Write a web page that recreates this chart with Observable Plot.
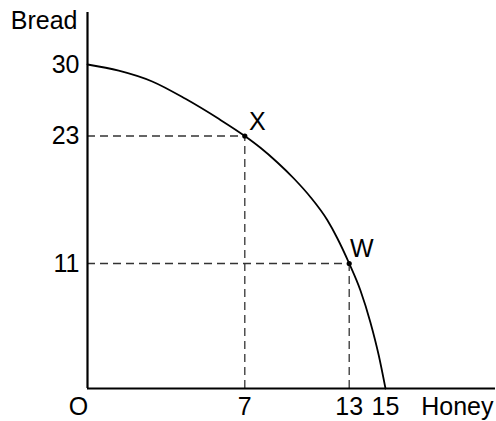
<!DOCTYPE html>
<html>
<head>
<meta charset="utf-8">
<script src="https://cdn.jsdelivr.net/npm/d3@7"></script>
<script src="https://cdn.jsdelivr.net/npm/@observablehq/plot@0.6"></script>
<style>
  html, body { margin: 0; padding: 0; background: #fff; }
  svg { display: block; }
</style>
</head>
<body>
<div id="chart"></div>
<script>
// Production possibilities frontier (schematic, not to scale)
const xAxisTitle = "Honey";
const yAxisTitle = "Bread";
const originLabel = "O";
const honeyTicks = [7, 13, 15];
const breadTicks = [30, 23, 11];

// Labelled points on the frontier
const pointNames = ["X", "W"];
const pointHoney = [7, 13];
const pointBread = [23, 11];

// Frontier
const curveHoney = [0, 1.39, 2.88, 4.36, 5.84, 7, 7.90, 8.86, 9.82, 10.78, 11.74, 12.31, 13, 13.62, 14.17, 14.63, 15];
const curveBread = [30, 29.40, 28.34, 26.64, 24.68, 23, 21.89, 20.53, 19.0, 17.24, 15.09, 13.40, 11, 8.62, 5.81, 2.90, 0];

// Scale break-points (the figure is schematic, so scales are piecewise)
const xBreaks = [0, 7, 13, 15];
const yBreaks = [0, 11, 23, 30];

const curve = curveHoney.map((h, i) => ({honey: h, bread: curveBread[i]}));
const pts = pointNames.map((n, i) => ({name: n, honey: pointHoney[i], bread: pointBread[i]}));
const font = "'Liberation Sans', Arial, Helvetica, sans-serif";
const fs = 25;

const chart = Plot.plot({
  width: 496,
  height: 421,
  marginLeft: 87,
  marginTop: 12,
  marginRight: 1,
  marginBottom: 33,
  style: {fontFamily: font, background: "#fff", color: "#000"},
  x: {type: "linear", domain: xBreaks, range: [87, 244.3, 348.7, 385], axis: null},
  y: {type: "linear", domain: yBreaks, range: [388, 263, 135.5, 64], axis: null},
  marks: [
    // dashed guides
    Plot.ruleY(pts, {y: "bread", x1: 0, x2: "honey", stroke: "#333", strokeWidth: 1.3, strokeDasharray: "8,5"}),
    Plot.ruleX(pts, {x: "honey", y1: 0, y2: "bread", stroke: "#333", strokeWidth: 1.3, strokeDasharray: "8,5"}),
    // frontier
    Plot.line(curve, {x: "honey", y: "bread", curve: "monotone-x", stroke: "#000", strokeWidth: 1.8}),
    // axes
    Plot.ruleX([0], {stroke: "#000", strokeWidth: 2.2}),
    Plot.ruleY([0], {stroke: "#000", strokeWidth: 2.2}),
    // points and labels
    Plot.dot(pts, {x: "honey", y: "bread", r: 2.6, fill: "#000", stroke: null}),
    Plot.text(pts, {x: "honey", y: "bread", text: "name", dx: 12.5, dy: -14.5, fontSize: fs, textAnchor: "middle", lineAnchor: "middle", fill: "#000"}),
    // tick labels
    Plot.text(breadTicks, {x: 0, y: d => d, text: d => String(d), dx: -8, textAnchor: "end", lineAnchor: "middle", fontSize: fs, fill: "#000"}),
    Plot.text(honeyTicks, {x: d => d, y: 0, text: d => String(d), dy: 18, textAnchor: "middle", lineAnchor: "middle", fontSize: fs, fill: "#000"}),
    Plot.text([originLabel], {x: 0, y: 0, text: d => d, dx: -9, dy: 18, textAnchor: "middle", lineAnchor: "middle", fontSize: fs, fill: "#000"}),
    // axis titles
    Plot.text([yAxisTitle], {frameAnchor: "top-left", text: d => d, dx: -10, dy: 8, textAnchor: "end", lineAnchor: "middle", fontSize: fs, fill: "#000"}),
    Plot.text([xAxisTitle], {frameAnchor: "bottom-right", text: d => d, dx: -2, dy: 18, textAnchor: "end", lineAnchor: "middle", fontSize: fs, fill: "#000"})
  ]
});
document.getElementById("chart").appendChild(chart);
</script>
</body>
</html>
